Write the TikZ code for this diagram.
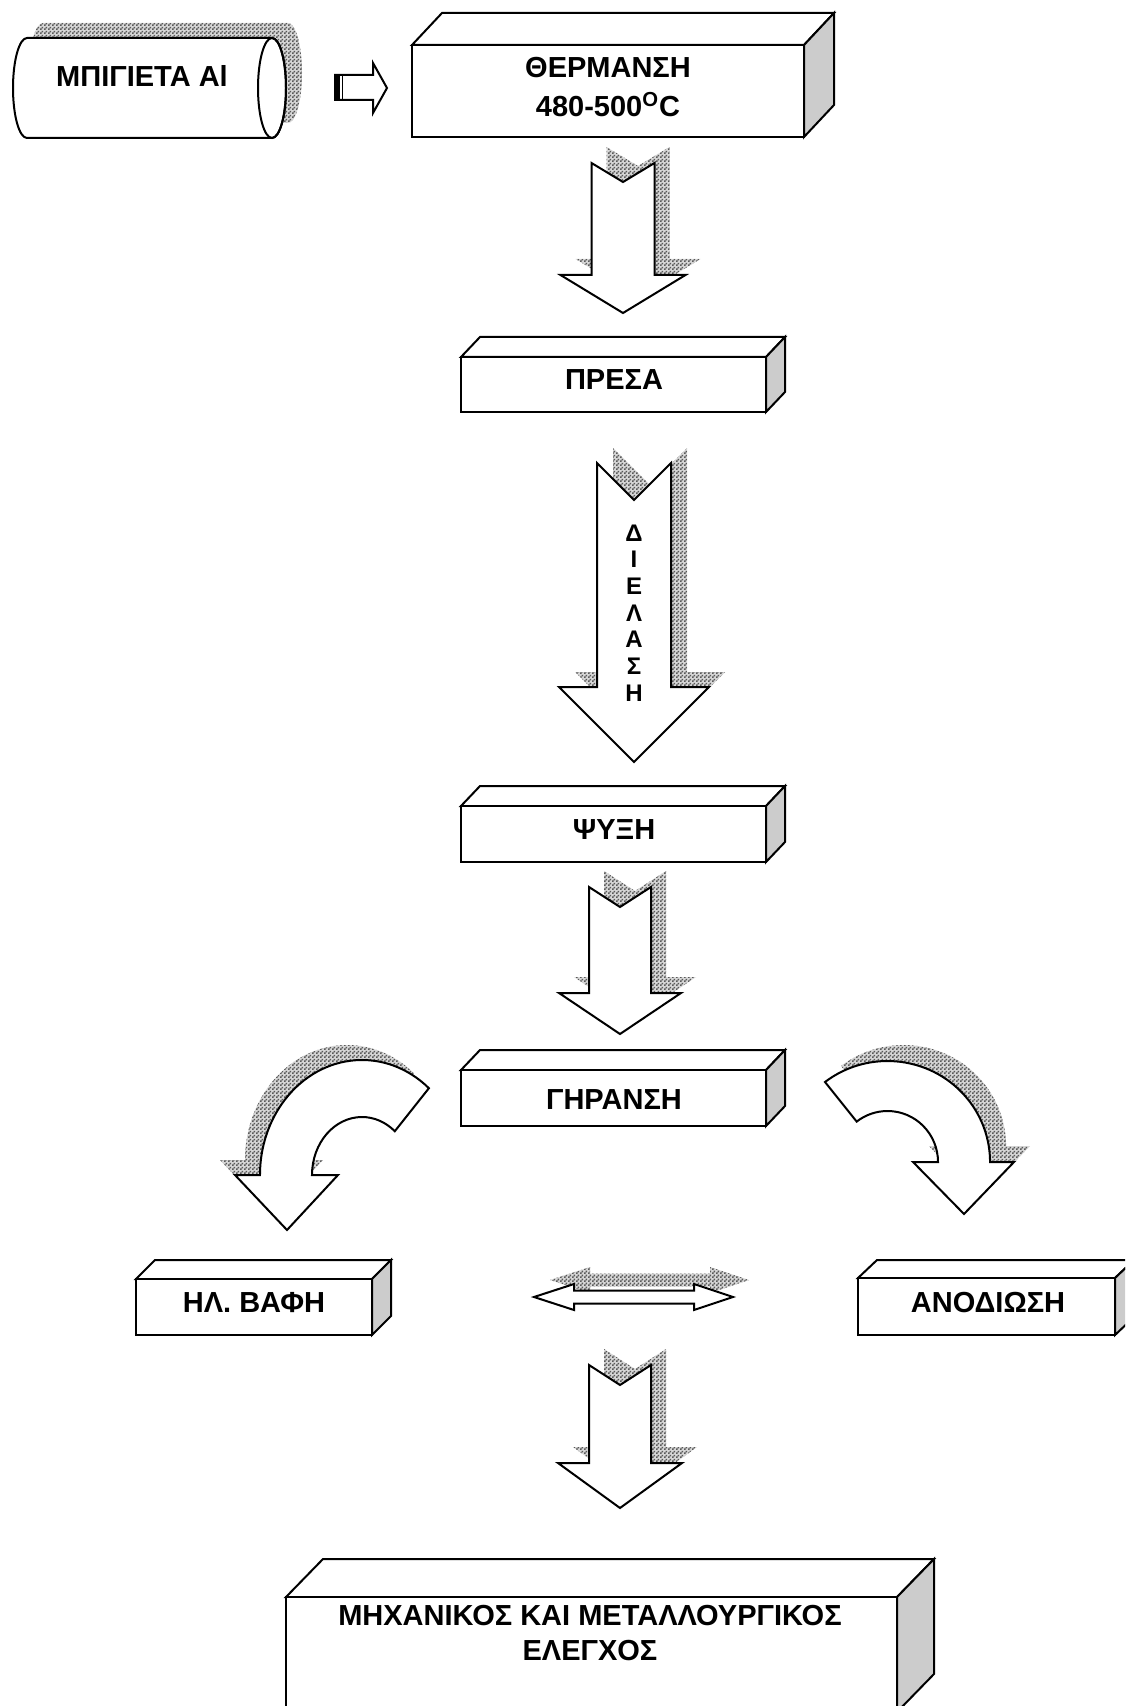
\documentclass[tikz,border=0pt]{standalone}
\usepackage{fontspec}
\setmainfont{Liberation Sans}
\usetikzlibrary{patterns}

\pgfdeclarepatternformonly{finechecker}{\pgfqpoint{0pt}{0pt}}{\pgfqpoint{2pt}{2pt}}{\pgfqpoint{2pt}{2pt}}{%
  \pgfpathrectangle{\pgfqpoint{0pt}{0pt}}{\pgfqpoint{1pt}{1pt}}%
  \pgfpathrectangle{\pgfqpoint{1pt}{1pt}}{\pgfqpoint{1pt}{1pt}}%
  \pgfusepath{fill}}

\definecolor{sidegray}{gray}{0.80}
\definecolor{shadowgray}{gray}{0.35}
\definecolor{shadowbase}{gray}{0.84}

\tikzset{
  outline/.style={draw=black, line width=1pt, fill=white, line join=miter},
  sideface/.style={draw=black, line width=1pt, fill=sidegray, line join=miter},
  shadowfill/.style={fill=shadowbase, postaction={pattern=finechecker, pattern color=shadowgray}},
  lbl/.style={font=\bfseries\fontsize{14.5}{17.5}\selectfont, inner sep=0pt, align=center},
  vlbl/.style={font=\bfseries\fontsize{12}{13.35}\selectfont, inner sep=0pt, align=center},
}

% cuboid: x1, ytop, x2, ybottom, depth dx, depth dy (up)
\newcommand\cuboid[6]{%
  \draw[outline] (#1,#2) -- (#1+#5,#2-#6) -- (#3+#5,#2-#6) -- (#3,#2) -- cycle;
  \draw[sideface] (#3,#2) -- (#3+#5,#2-#6) -- (#3+#5,#4-#6) -- (#3,#4) -- cycle;
  \draw[outline] (#1,#2) rectangle (#3,#4);}

% notched down block arrow: cx, top, half shaft, notch, head top, half head, tip, shadow dx, shadow dy(up)
\newcommand\blockdown[9]{%
  \begin{scope}[shift={(#8,-#9)}]
    \fill[shadowfill] (#1-#3,#2) -- (#1,#2+#4) -- (#1+#3,#2) -- (#1+#3,#5) -- (#1+#6,#5) -- (#1,#7) -- (#1-#6,#5) -- (#1-#3,#5) -- cycle;
  \end{scope}
  \draw[outline] (#1-#3,#2) -- (#1,#2+#4) -- (#1+#3,#2) -- (#1+#3,#5) -- (#1+#6,#5) -- (#1,#7) -- (#1-#6,#5) -- (#1-#3,#5) -- cycle;}

\begin{document}
\begin{tikzpicture}[x=0.5pt, y=-0.5pt]
\useasboundingbox (0,0) rectangle (1125,1706);
\clip (0,0) rectangle (1125,1706);

% ---------- billet cylinder ----------
\begin{scope}[shift={(16,-15)}]
  \fill[shadowfill] (27,38) -- (272,38) arc[start angle=270, end angle=450, x radius=14, y radius=50]
    -- (27,138) arc[start angle=90, end angle=270, x radius=14, y radius=50] -- cycle;
\end{scope}
\draw[outline] (27,38) -- (272,38) arc[start angle=270, end angle=450, x radius=14, y radius=50]
    -- (27,138) arc[start angle=90, end angle=270, x radius=14, y radius=50] -- cycle;
\draw[line width=1pt] (272,88) ellipse [x radius=14, y radius=50];
\node[lbl] (billet) at (142,76) {ΜΠΙΓΙΕΤΑ Al};

% ---------- small striped right arrow ----------
\draw[outline] (335,75) -- (373,75) -- (373,63) -- (387,88) -- (373,113) -- (373,100) -- (335,100) -- cycle;
\fill (335,75) rectangle (340,100);
\draw[line width=0.6pt] (342.5,75) -- (342.5,100);

% ---------- heating box ----------
\cuboid{412}{45}{804}{137}{30}{32}
\node[lbl, font=\bfseries\fontsize{14.5}{19.75}\selectfont] (heat) at (608,87.25) {ΘΕΡΜΑΝΣΗ\\480-500\textsuperscript{O}C};

% arrow 1
\blockdown{623}{163}{31.5}{19}{275}{62.5}{313}{15}{16}

% ---------- press ----------
\cuboid{461}{357}{766}{412}{19}{20}
\node[lbl] (press) at (614,380) {ΠΡΕΣΑ};

% arrow 2 (extrusion)
\blockdown{634}{463}{37}{37}{687}{75}{762}{16}{15}
\node[vlbl] (extr) at (634,613) {Δ\\Ι\\Ε\\Λ\\Α\\Σ\\Η};

% ---------- cooling ----------
\cuboid{461}{806}{766}{862}{19}{20}
\node[lbl] (cool) at (614,830) {ΨΥΞΗ};

% arrow 3
\blockdown{620}{887}{31}{20}{993}{61}{1034}{15}{16}

% ---------- ageing ----------
\cuboid{461}{1070}{766}{1126}{19}{20}
\node[lbl] (age) at (614,1100) {ΓΗΡΑΝΣΗ};

% ---------- left curved arrow ----------
\begin{scope}[shift={(-15,-15)}]
  \fill[shadowfill] (428.9,1088.2) arc[start angle=-49, end angle=-180, x radius=102, y radius=115]
    -- (235,1175) -- (287,1230) -- (338,1175) -- (312,1175)
    arc[start angle=180, end angle=311, x radius=50, y radius=58] -- cycle;
\end{scope}
\draw[outline] (428.9,1088.2) arc[start angle=-49, end angle=-180, x radius=102, y radius=115]
    -- (235,1175) -- (287,1230) -- (338,1175) -- (312,1175)
    arc[start angle=180, end angle=311, x radius=50, y radius=58] -- cycle;

% ---------- right curved arrow ----------
\begin{scope}[shift={(16,-16)}]
  \fill[shadowfill] (825,1082) arc[start angle=-127.6, end angle=0, x radius=102.5, y radius=101]
    -- (1014,1162) -- (964,1214) -- (913,1162) -- (938,1162)
    arc[start angle=0, end angle=-127.6, x radius=50.5, y radius=51] -- cycle;
\end{scope}
\draw[outline] (825,1082) arc[start angle=-127.6, end angle=0, x radius=102.5, y radius=101]
    -- (1014,1162) -- (964,1214) -- (913,1162) -- (938,1162)
    arc[start angle=0, end angle=-127.6, x radius=50.5, y radius=51] -- cycle;

% ---------- painting / anodising ----------
\cuboid{136}{1279}{372}{1335}{19}{19}
\node[lbl] (paint) at (254,1303) {ΗΛ. ΒΑΦΗ};
\cuboid{858}{1278}{1115}{1335}{19}{18}
\node[lbl] (anod) at (988,1303) {ΑΝΟΔΙΩΣΗ};

% ---------- double arrow ----------
\begin{scope}[shift={(16,-17)}]
  \fill[shadowfill] (534,1297) -- (574,1284) -- (574,1290.5) -- (694,1290.5) -- (694,1284) -- (733,1297)
    -- (694,1310) -- (694,1303.5) -- (574,1303.5) -- (574,1310) -- cycle;
\end{scope}
\draw[outline] (534,1297) -- (574,1284) -- (574,1290.5) -- (694,1290.5) -- (694,1284) -- (733,1297)
    -- (694,1310) -- (694,1303.5) -- (574,1303.5) -- (574,1310) -- cycle;

% arrow 4
\blockdown{620}{1365}{31}{20}{1463}{62}{1508}{15}{16}

% ---------- testing ----------
\cuboid{286}{1597}{897}{1712}{37}{38}
\node[lbl] (test) at (590,1632.5) {ΜΗΧΑΝΙΚΟΣ ΚΑΙ ΜΕΤΑΛΛΟΥΡΓΙΚΟΣ\\ΕΛΕΓΧΟΣ};
\end{tikzpicture}
\end{document}
